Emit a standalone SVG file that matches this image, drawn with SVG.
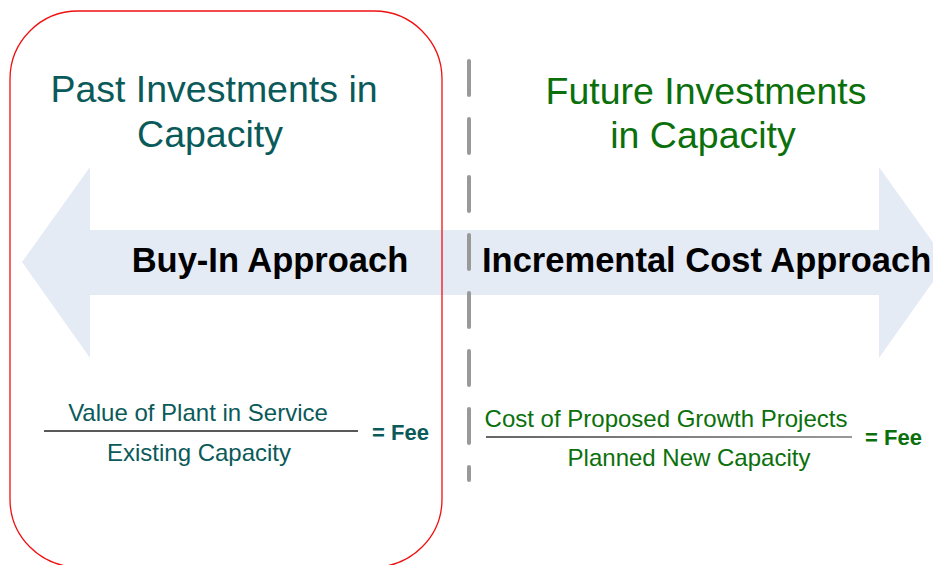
<svg xmlns="http://www.w3.org/2000/svg" width="933" height="565" viewBox="0 0 933 565">
  <style>
    text { font-family: "Liberation Sans", Arial, sans-serif; }
    .teal { fill: #0b5a5a; }
    .green { fill: #0b700b; }
    .title { font-size: 37.5px; text-anchor: middle; }
    .band { font-size: 34.5px; font-weight: bold; fill: #000; }
    .frac { font-size: 24px; text-anchor: middle; }
    .fee { font-size: 22px; font-weight: bold; }
  </style>
  <defs>
    <linearGradient id="barGrad" gradientUnits="userSpaceOnUse" x1="486" y1="0" x2="852" y2="0">
      <stop offset="0" stop-color="#333"/>
      <stop offset="1" stop-color="#777"/>
    </linearGradient>
  </defs>
  <rect width="933" height="565" fill="#fff"/>

  <!-- double-headed band arrow -->
  <g id="band-arrow">
    <polygon points="22,262 90,167 90,230 879,230 879,167 947,262 879,358 879,295 90,295 90,358" fill="#e5ebf5"/>
  </g>

  <!-- past investments frame -->
  <g id="past-frame">
    <rect x="10" y="11" width="432" height="556" rx="68" ry="68" fill="none" stroke="#f01010" stroke-width="1.3"/>
  </g>

  <!-- divider -->
  <g id="connectors">
    <line x1="469" y1="61" x2="469" y2="480" stroke="#999" stroke-width="4" stroke-linecap="round" stroke-dasharray="34 24"/>
  </g>

  <g id="past-title">
    <text class="title teal" x="214" y="102">Past Investments in</text>
    <text class="title teal" x="210" y="147">Capacity</text>
  </g>

  <g id="future-title">
    <text class="title green" x="706" y="104">Future Investments</text>
    <text class="title green" x="703" y="148">in Capacity</text>
  </g>

  <g id="buy-in">
    <text class="band" x="270" y="272" text-anchor="middle">Buy-In Approach</text>
  </g>

  <g id="incremental">
    <text class="band" x="482" y="272">Incremental Cost Approach</text>
  </g>

  <g id="buy-in-formula">
    <text class="frac teal" x="198" y="421">Value of Plant in Service</text>
    <line x1="44" y1="431" x2="358" y2="431" stroke="#222" stroke-width="1.5"/>
    <text class="frac teal" x="199" y="461">Existing Capacity</text>
    <text class="fee teal" x="372" y="440">= Fee</text>
  </g>

  <g id="incremental-formula">
    <text class="frac green" x="666" y="427">Cost of Proposed Growth Projects</text>
    <line x1="486" y1="437" x2="852" y2="437" stroke="url(#barGrad)" stroke-width="1.5"/>
    <text class="frac green" x="689" y="466">Planned New Capacity</text>
    <text class="fee green" x="865" y="445">= Fee</text>
  </g>
</svg>
